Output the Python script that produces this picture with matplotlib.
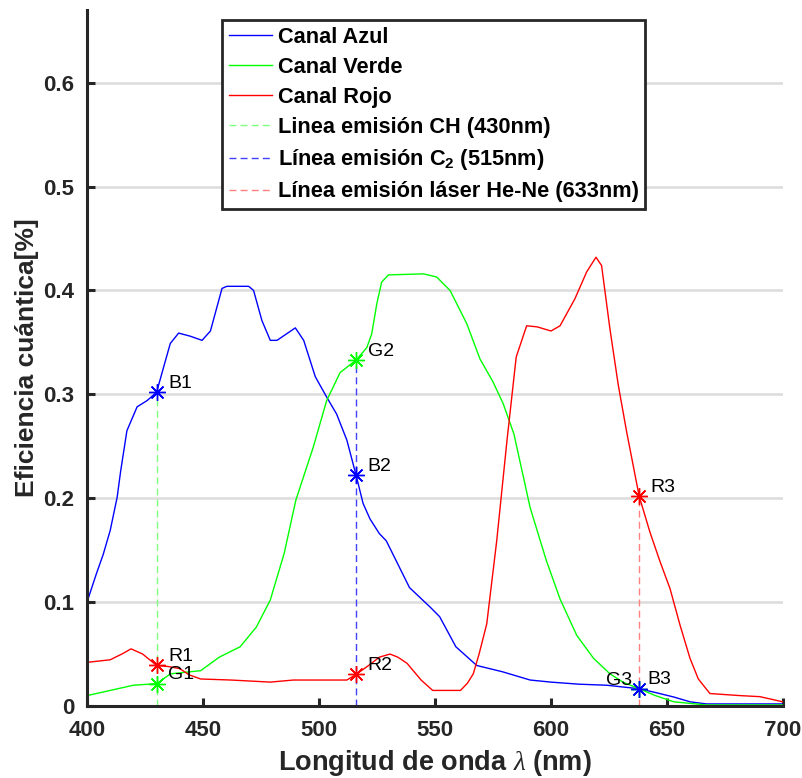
import matplotlib
matplotlib.use("Agg")
import matplotlib.pyplot as plt

plt.rcParams["font.family"] = ["Liberation Sans", "DejaVu Sans"]
plt.rcParams["mathtext.fontset"] = "custom"
plt.rcParams["mathtext.rm"] = "Liberation Sans"
plt.rcParams["mathtext.bf"] = "Liberation Sans:bold"
plt.rcParams["mathtext.it"] = "Liberation Serif:italic"

# ---- datos ----
blue_x = [400, 404, 407, 410, 413, 414.5, 417.2, 421.6, 425.9, 430, 433, 435.9, 439.5, 444.5,
          449.6, 453.2, 458.2, 460.3, 469.7, 471.8, 475.4, 479, 481.9, 489.8, 493.4, 498.4,
          503.4, 507.6, 512, 516, 519, 522, 526, 529, 539, 548, 552, 559, 568, 579, 591, 600,
          612, 624, 638, 645, 653, 660, 667, 680, 700]
blue_y = [0.100, 0.127, 0.146, 0.169, 0.201, 0.226, 0.265, 0.288, 0.294, 0.302, 0.326, 0.349,
          0.359, 0.356, 0.352, 0.361, 0.402, 0.404, 0.404, 0.400, 0.371, 0.352, 0.352, 0.364,
          0.352, 0.317, 0.297, 0.281, 0.256, 0.222, 0.195, 0.180, 0.166, 0.159, 0.114, 0.095,
          0.086, 0.057, 0.039, 0.033, 0.025, 0.023, 0.021, 0.020, 0.0166, 0.013, 0.0086, 0.004,
          0.002, 0.002, 0.002]

green_x = [400, 410, 420, 430, 436, 443, 449, 457, 466, 473, 479, 485, 490, 497.5, 503.3,
           509.1, 516, 520.6, 522.7, 524.9, 527, 529.9, 545, 550.7, 556.5, 563.7, 569.4, 575,
           579.4, 584, 591, 598, 603.9, 611.1, 618.3, 625.4, 631, 638, 645, 653, 667, 700]
green_y = [0.010, 0.015, 0.020, 0.0215, 0.031, 0.0326, 0.034, 0.047, 0.057, 0.076, 0.102,
           0.147, 0.198, 0.249, 0.294, 0.321, 0.333, 0.345, 0.358, 0.387, 0.408, 0.415, 0.416,
           0.413, 0.400, 0.368, 0.334, 0.312, 0.291, 0.262, 0.191, 0.140, 0.103, 0.068, 0.046,
           0.031, 0.023, 0.0166, 0.010, 0.004, 0.001, 0.001]

red_x = [400, 410, 415, 419, 424, 430, 435, 440, 444, 449, 462, 479, 489, 500, 512, 516, 522,
         526, 530.6, 534, 538, 544, 549, 561, 564, 566.5, 569, 572.3, 576.6, 581, 585, 589.5,
         594, 600, 603.9, 610.3, 615.4, 619.4, 621.8, 625.4, 629, 632.6, 638, 642.7, 647,
         651.3, 655.6, 659.9, 663.5, 668.5, 681.5, 690, 700]
red_y = [0.042, 0.0445, 0.050, 0.055, 0.050, 0.039, 0.038, 0.036, 0.030, 0.026, 0.025, 0.023,
         0.025, 0.025, 0.025, 0.0304, 0.040, 0.047, 0.050, 0.047, 0.041, 0.025, 0.015, 0.015,
         0.022, 0.031, 0.050, 0.079, 0.159, 0.255, 0.336, 0.366, 0.365, 0.361, 0.366, 0.392,
         0.418, 0.432, 0.424, 0.363, 0.309, 0.264, 0.202, 0.167, 0.139, 0.113, 0.078, 0.046,
         0.026, 0.012, 0.010, 0.009, 0.004]

# lineas de emision (x) y puntos marcados
lines_x = [430, 516, 638]
lines_top = [0.302, 0.333, 0.202]
pts_blue = [(430, 0.302, "B1"), (516, 0.222, "B2"), (638, 0.0166, "B3")]
pts_green = [(430, 0.0215, "G1"), (516, 0.333, "G2"), (638, 0.0166, "G3")]
pts_red = [(430, 0.039, "R1"), (516, 0.0304, "R2"), (638, 0.202, "R3")]

fig = plt.figure(figsize=(8.03, 7.78), dpi=100)
ax = fig.add_axes([87 / 803, 72 / 778, 696 / 803, 696 / 778])

ax.plot(blue_x, blue_y, color="#0000ff", lw=1.0, label="Canal Azul")
ax.plot(green_x, green_y, color="#00ff00", lw=1.0, label="Canal Verde")
ax.plot(red_x, red_y, color="#ff0000", lw=1.0, label="Canal Rojo")

dash_cols = ["#7fff7f", "#4040ff", "#ff8080"]
dash_labels = ["Linea emisión CH (430nm)", r"Línea emisión C$_\mathbf{2}$ (515nm)",
               "Línea emisión láser He-Ne (633nm)"]
for xv, top, c, lab in zip(lines_x, lines_top, dash_cols, dash_labels):
    ax.plot([xv, xv], [0, top], color=c, lw=1.0, dashes=(5, 3), label=lab)

ast = (8, 2, 0)
for pts, c in [(pts_red, "#ff0000"), (pts_green, "#00ff00"), (pts_blue, "#0000ff")]:
    for xv, yv, lab in pts:
        ax.plot(xv, yv, marker=ast, ms=12, mew=1.0, color=c, ls="none")

for pts in [pts_blue, pts_green, pts_red]:
    for xv, yv, lab in pts:
        if lab == "G3":
            ax.text(xv - 3.2, yv + 0.008, lab, ha="right", va="center", fontsize=14)
        elif lab == "B3":
            ax.text(xv + 3.5, yv + 0.009, lab, ha="left", va="center", fontsize=14)
        else:
            ax.text(xv + 5, yv + 0.0085, lab, ha="left", va="center", fontsize=14)

ax.set_xlim(400, 700)
ax.set_ylim(0, 0.67)
ax.set_xticks([400, 450, 500, 550, 600, 650, 700])
ax.set_yticks([0, 0.1, 0.2, 0.3, 0.4, 0.5, 0.6])
ax.set_yticklabels(["0", "0.1", "0.2", "0.3", "0.4", "0.5", "0.6"])
ax.grid(axis="y", color="#dcdcdc", lw=1.8)
ax.set_axisbelow(True)

for s in ["top", "right"]:
    ax.spines[s].set_visible(False)
for s in ["left", "bottom"]:
    ax.spines[s].set_color("#262626")
    ax.spines[s].set_linewidth(2.2)
ax.tick_params(direction="in", length=6, width=2.2, color="#262626",
               labelsize=16, labelcolor="#262626")
ax.tick_params(axis="x", pad=10)
ax.tick_params(axis="y", pad=9)
for t in ax.get_xticklabels() + ax.get_yticklabels():
    t.set_fontweight("bold")

ax.set_xlabel(r"Longitud de onda $\lambda$ (nm)", fontsize=19.5, fontweight="bold",
              color="#262626", labelpad=5)
ax.set_ylabel("Eficiencia cuántica[%]", fontsize=19, fontweight="bold",
              color="#262626", labelpad=3)

leg = ax.legend(loc="upper left", bbox_to_anchor=(222 / 803, 1 - 20 / 778),
                bbox_transform=fig.transFigure, prop={"weight": "bold", "size": 15.7},
                frameon=True, fancybox=False, framealpha=1, edgecolor="#262626",
                handlelength=2.0, handletextpad=0.25, labelspacing=0.42,
                borderpad=0.3, borderaxespad=0)
leg.get_frame().set_linewidth(2.0)

fig.savefig("out.png", dpi=100)
